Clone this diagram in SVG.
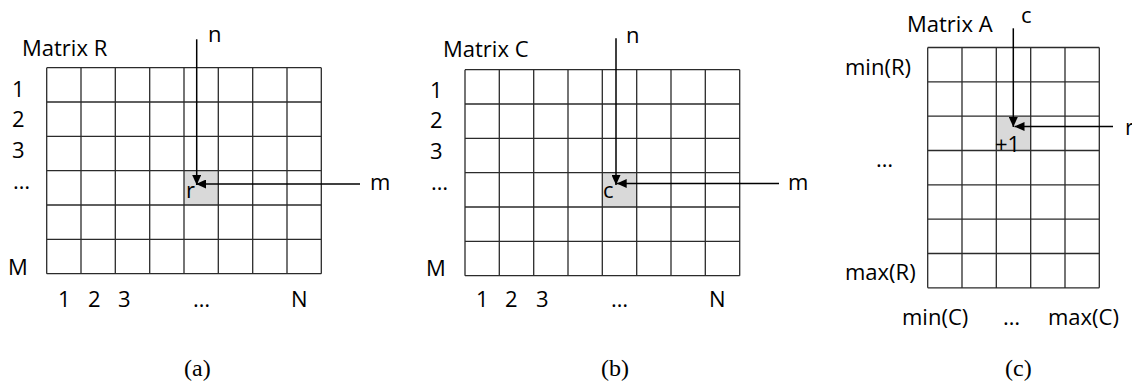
<svg xmlns="http://www.w3.org/2000/svg" width="1132" height="384" viewBox="0 0 1132 384">
<style>
.t{font-family:"Open Sans","Liberation Sans",sans-serif;font-size:22px;fill:#000}
.cap{font-family:"Liberation Serif","Times New Roman",serif;font-size:24px;fill:#000}
.grid{fill:none;stroke:#2b2b2b;stroke-width:1.3}
.hl{fill:#d9d9d9;stroke:none}
.arr{fill:none;stroke:#000;stroke-width:1.5;marker-end:url(#ah)}
</style>
<defs>
<marker id="ah" markerUnits="userSpaceOnUse" markerWidth="11" markerHeight="9" refX="10" refY="4.5" orient="auto">
<path d="M0,0 L10,4.5 L0,9 Z" fill="#000"/>
</marker>
</defs>
<rect width="1132" height="384" fill="#fff"/>

<g id="matrixR">
<rect class="hl" x="184" y="170.7" width="34.3" height="34.3"/>
<path class="grid" d="M46.7,67.7V273.7M81,67.7V273.7M115.3,67.7V273.7M149.7,67.7V273.7M184,67.7V273.7M218.3,67.7V273.7M252.7,67.7V273.7M287,67.7V273.7M321.3,67.7V273.7M46.7,67.7H321.3M46.7,102H321.3M46.7,136.3H321.3M46.7,170.7H321.3M46.7,205H321.3M46.7,239.3H321.3M46.7,273.7H321.3"/>
<text class="t" x="22" y="56">Matrix R</text>
<text class="t" x="186" y="198">r</text>
<text class="t" x="12" y="97">1</text>
<text class="t" x="12" y="127">2</text>
<text class="t" x="12" y="158">3</text>
<text class="t" x="13" y="189">…</text>
<text class="t" x="8" y="275">M</text>
<text class="t" x="58" y="307">1</text>
<text class="t" x="88" y="307">2</text>
<text class="t" x="118" y="307">3</text>
<text class="t" x="193" y="307">…</text>
<text class="t" x="291" y="307">N</text>
<text class="t" x="208" y="42">n</text>
<text class="t" x="370" y="190">m</text>
<text class="cap" x="184" y="376">(a)</text>
</g>

<g id="matrixC">
<rect class="hl" x="602.3" y="172.7" width="34.3" height="34.3"/>
<path class="grid" d="M465,69.7V275.7M499.3,69.7V275.7M533.7,69.7V275.7M568,69.7V275.7M602.3,69.7V275.7M636.7,69.7V275.7M671,69.7V275.7M705.3,69.7V275.7M739.7,69.7V275.7M465,69.7H739.7M465,104H739.7M465,138.3H739.7M465,172.7H739.7M465,207H739.7M465,241.3H739.7M465,275.7H739.7"/>
<text class="t" x="443" y="56.7">Matrix C</text>
<text class="t" x="603" y="198">c</text>
<text class="t" x="430" y="98.3">1</text>
<text class="t" x="430" y="128.3">2</text>
<text class="t" x="430" y="159.3">3</text>
<text class="t" x="431" y="190">…</text>
<text class="t" x="426" y="276">M</text>
<text class="t" x="476" y="307">1</text>
<text class="t" x="505" y="307">2</text>
<text class="t" x="536" y="307">3</text>
<text class="t" x="611" y="307">…</text>
<text class="t" x="709" y="307">N</text>
<text class="t" x="626" y="42.7">n</text>
<text class="t" x="788" y="190">m</text>
<text class="cap" x="601" y="376">(b)</text>
</g>

<g id="matrixA">
<rect class="hl" x="996.3" y="116.2" width="34.3" height="34.3"/>
<path class="grid" d="M927.7,47.5V287.8M962,47.5V287.8M996.3,47.5V287.8M1030.7,47.5V287.8M1065,47.5V287.8M1099.3,47.5V287.8M927.7,47.5H1099.3M927.7,81.8H1099.3M927.7,116.2H1099.3M927.7,150.5H1099.3M927.7,184.8H1099.3M927.7,219.2H1099.3M927.7,253.5H1099.3M927.7,287.8H1099.3"/>
<text class="t" x="907" y="31.7">Matrix A</text>
<text class="t" x="995" y="152">+1</text>
<text class="t" x="845" y="75">min(R)</text>
<text class="t" x="876" y="167">…</text>
<text class="t" x="845" y="280">max(R)</text>
<text class="t" x="902" y="325">min(C)</text>
<text class="t" x="1003" y="325">…</text>
<text class="t" x="1048" y="325">max(C)</text>
<text class="t" x="1021" y="22.7">c</text>
<text class="t" x="1125" y="135">r</text>
<text class="cap" x="1005" y="376">(c)</text>
</g>

<g id="connectors">
<path class="arr" d="M196.7,39.3V185"/>
<path class="arr" d="M360,184H196"/>
<path class="arr" d="M616,38.3V185"/>
<path class="arr" d="M779,183.5H616.7"/>
<path class="arr" d="M1013.3,28.3V127"/>
<path class="arr" d="M1113,126.5H1014.5"/>
</g>
</svg>
